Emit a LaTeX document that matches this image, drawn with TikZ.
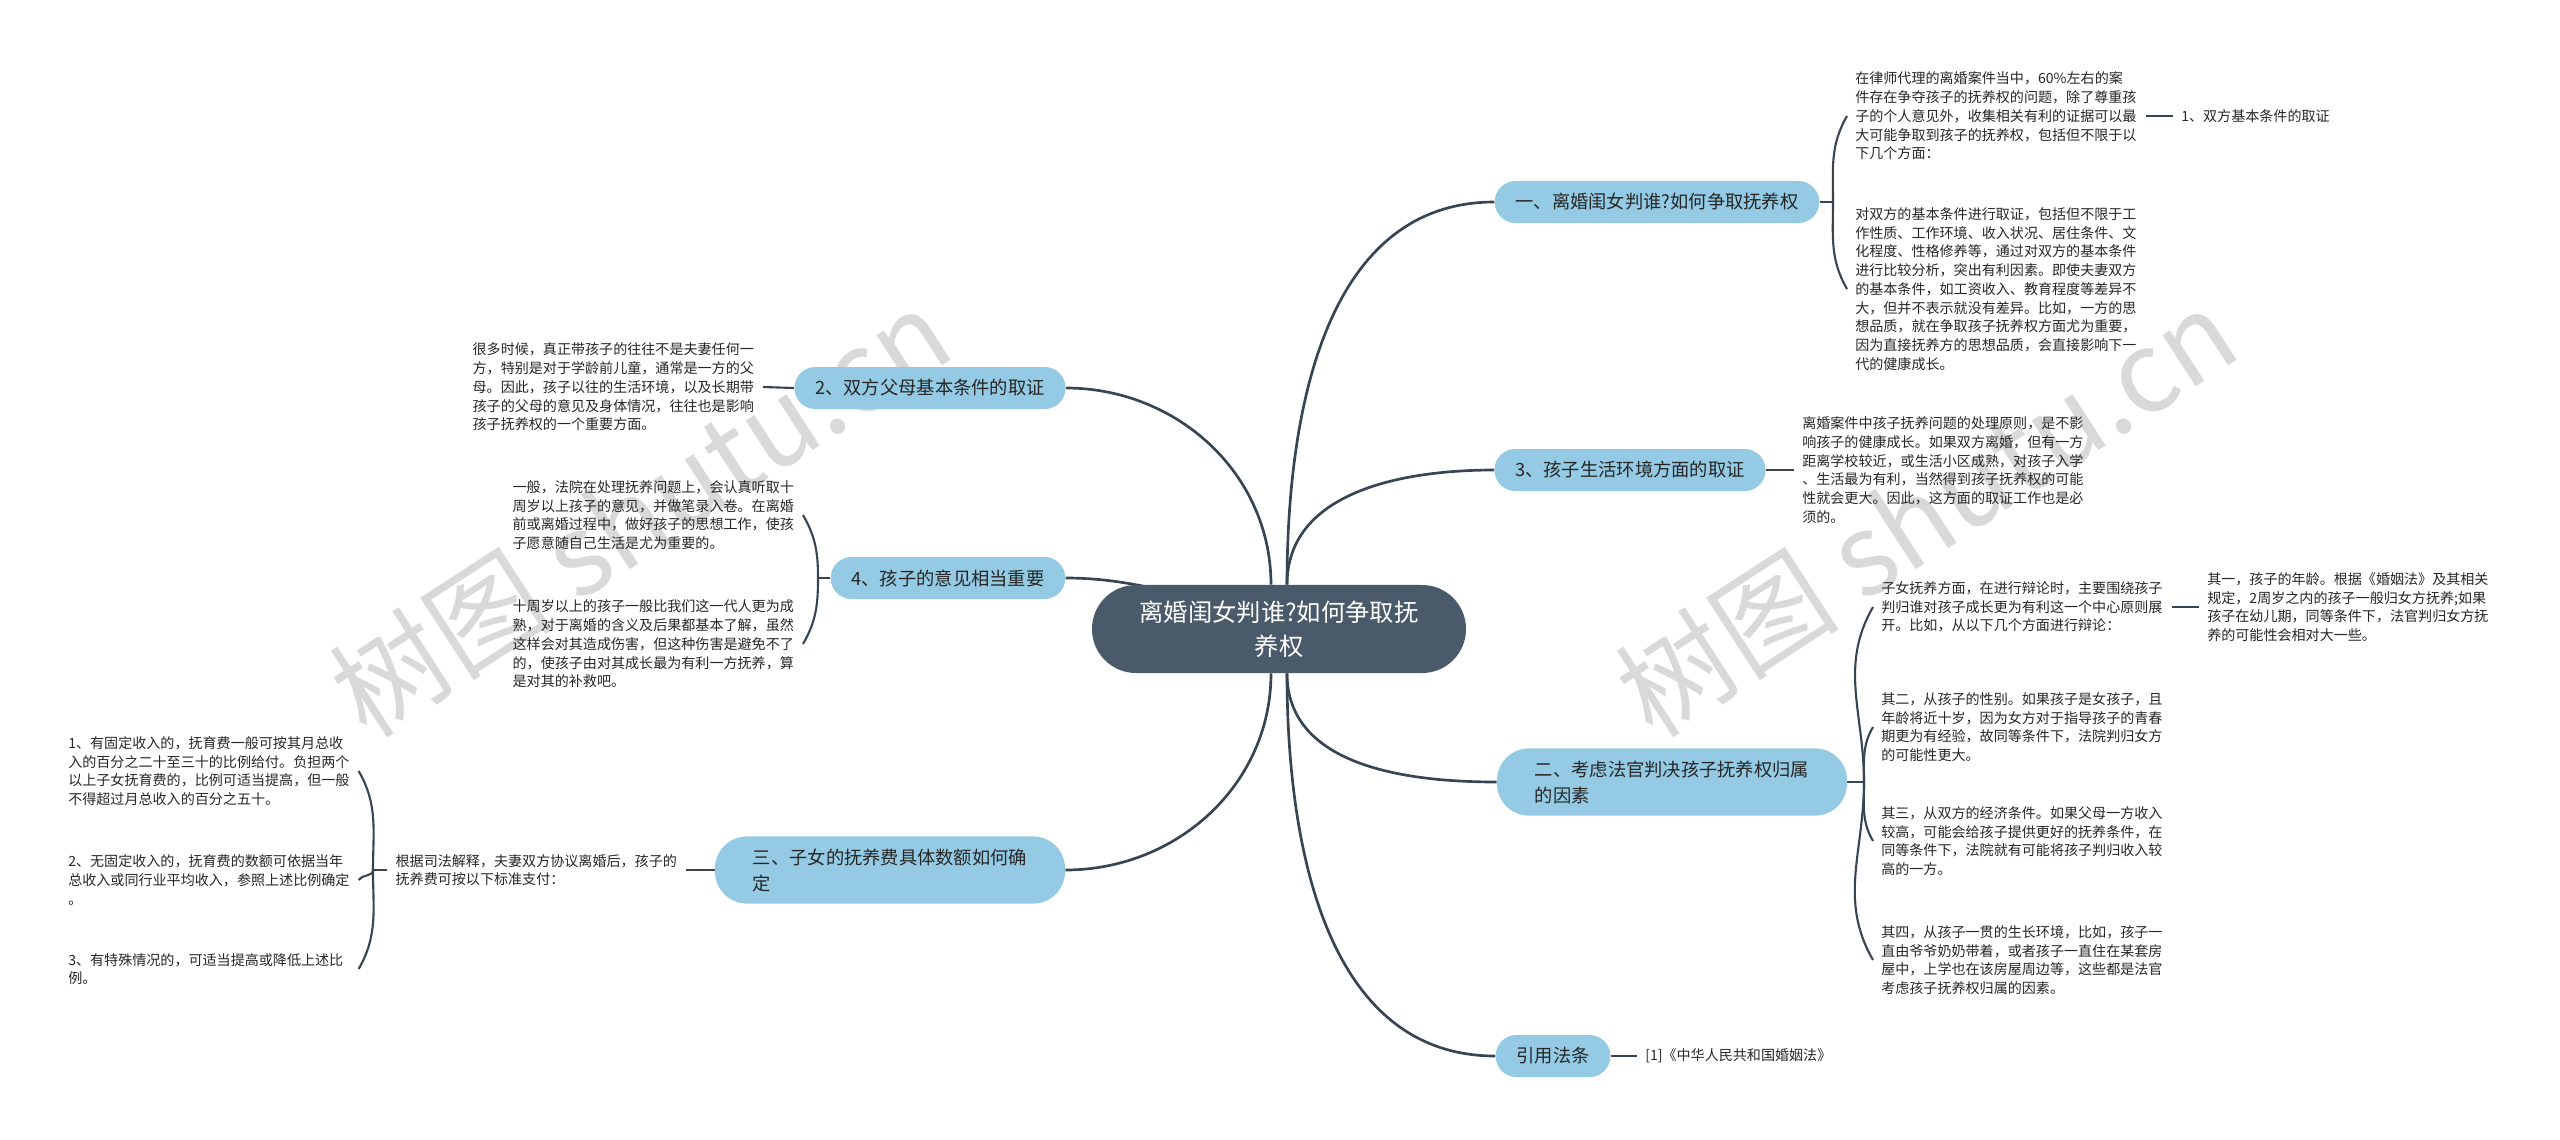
\documentclass[tikz,border=0pt]{standalone}
\usepackage{fontspec}
\setmainfont{Noto Sans CJK SC}
\usepackage{xcolor}
\usetikzlibrary{positioning, calc, backgrounds}

\definecolor{rootfill}{RGB}{74,90,106}
\definecolor{branchfill}{RGB}{148,202,227}
\definecolor{linkcol}{RGB}{55,68,82}
\definecolor{leaftext}{RGB}{38,38,38}

\begin{document}
\begin{tikzpicture}[x=0.025cm, y=-0.025cm,
    root/.style={fill=rootfill, text=white, rounded corners=1.1cm, minimum width=9.35cm, minimum height=2.2cm, align=center, font=\fontsize{17.3}{24.4}\selectfont},
    branch/.style={fill=branchfill, text=black!85, rounded corners=0.52cm, minimum height=1.05cm, inner xsep=0.52cm, font=\fontsize{13}{18.5}\selectfont},
    branchtwo/.style={branch, rounded corners=0.8cm, minimum width=8.75cm, minimum height=1.68cm, align=left},
    leaf/.style={text=leaftext, inner xsep=0.2cm, inner ysep=0pt, text width=7.05cm, align=left, font=\fontsize{10}{13.3}\selectfont},
    tag/.style={text=leaftext, inner xsep=0.2cm, inner ysep=0pt, font=\fontsize{10}{13.3}\selectfont},
    link/.style={draw=linkcol, line width=1.9pt},
    twig/.style={draw=linkcol, line width=1.5pt},
    watermark/.style={text=black!15, font=\fontsize{80}{80}\selectfont, rotate=33}
  ]
  \useasboundingbox (0,0) rectangle (2560,1139);

  % Nodes
  \node[root] (root) at (1279,629) {离婚闺女判谁?如何争取抚\\养权};

  \node[branch] (custody) at (1657,202) {一、离婚闺女判谁?如何争取抚养权};
  \node[branch] (living) at (1630,470) {3、孩子生活环境方面的取证};
  \node[branchtwo] (factors) at (1672,782) {二、考虑法官判决孩子抚养权归属\\的因素};
  \node[branch] (statute) at (1553,1056) {引用法条};
  \node[branch] (parents) at (930,388) {2、双方父母基本条件的取证};
  \node[branch] (opinion) at (948,578) {4、孩子的意见相当重要};
  \node[branchtwo] (support) at (890,870) {三、子女的抚养费具体数额如何确\\定};

  % right side texts
  \node[leaf, anchor=west] (custodyA) at (1847,116) {在律师代理的离婚案件当中，60\%左右的案\\件存在争夺孩子的抚养权的问题，除了尊重孩\\子的个人意见外，收集相关有利的证据可以最\\大可能争取到孩子的抚养权，包括但不限于以\\下几个方面：};
  \node[tag, anchor=west] (custodyT) at (2173,116) {1、双方基本条件的取证};
  \node[leaf, anchor=west] (custodyB) at (1847,289) {对双方的基本条件进行取证，包括但不限于工\\作性质、工作环境、收入状况、居住条件、文\\化程度、性格修养等，通过对双方的基本条件\\进行比较分析，突出有利因素。即使夫妻双方\\的基本条件，如工资收入、教育程度等差异不\\大，但并不表示就没有差异。比如，一方的思\\想品质，就在争取孩子抚养权方面尤为重要，\\因为直接抚养方的思想品质，会直接影响下一\\代的健康成长。};
  \node[leaf, anchor=west] (livingA) at (1794,470) {离婚案件中孩子抚养问题的处理原则，是不影\\响孩子的健康成长。如果双方离婚，但有一方\\距离学校较近，或生活小区成熟，对孩子入学\\、生活最为有利，当然得到孩子抚养权的可能\\性就会更大。因此，这方面的取证工作也是必\\须的。};
  \node[leaf, anchor=west] (factorsA) at (1873,607) {子女抚养方面，在进行辩论时，主要围绕孩子\\判归谁对孩子成长更为有利这一个中心原则展\\开。比如，从以下几个方面进行辩论：};
  \node[leaf, anchor=west] (factorsE) at (2199,607) {其一，孩子的年龄。根据《婚姻法》及其相关\\规定，2周岁之内的孩子一般归女方抚养;如果\\孩子在幼儿期，同等条件下，法官判归女方抚\\养的可能性会相对大一些。};
  \node[leaf, anchor=west] (factorsB) at (1873,727) {其二，从孩子的性别。如果孩子是女孩子，且\\年龄将近十岁，因为女方对于指导孩子的青春\\期更为有经验，故同等条件下，法院判归女方\\的可能性更大。};
  \node[leaf, anchor=west] (factorsC) at (1873,841) {其三，从双方的经济条件。如果父母一方收入\\较高，可能会给孩子提供更好的抚养条件，在\\同等条件下，法院就有可能将孩子判归收入较\\高的一方。};
  \node[leaf, anchor=west] (factorsD) at (1873,960) {其四，从孩子一贯的生长环境，比如，孩子一\\直由爷爷奶奶带着，或者孩子一直住在某套房\\屋中，上学也在该房屋周边等，这些都是法官\\考虑孩子抚养权归属的因素。};
  \node[tag, anchor=west] (statuteA) at (1637,1056) {[1]《中华人民共和国婚姻法》};

  % left side texts
  \node[leaf, anchor=east] (parentsA) at (763,387) {很多时候，真正带孩子的往往不是夫妻任何一\\方，特别是对于学龄前儿童，通常是一方的父\\母。因此，孩子以往的生活环境，以及长期带\\孩子的父母的意见及身体情况，往往也是影响\\孩子抚养权的一个重要方面。};
  \node[leaf, anchor=east] (opinionA) at (803,515) {一般，法院在处理抚养问题上，会认真听取十\\周岁以上孩子的意见，并做笔录入卷。在离婚\\前或离婚过程中，做好孩子的思想工作，使孩\\子愿意随自己生活是尤为重要的。};
  \node[leaf, anchor=east] (opinionB) at (803,644) {十周岁以上的孩子一般比我们这一代人更为成\\熟，对于离婚的含义及后果都基本了解，虽然\\这样会对其造成伤害，但这种伤害是避免不了\\的，使孩子由对其成长最为有利一方抚养，算\\是对其的补救吧。};
  \node[leaf, anchor=east] (supportA) at (686,870) {根据司法解释，夫妻双方协议离婚后，孩子的\\抚养费可按以下标准支付：};
  \node[leaf, anchor=west] (supportB) at (60,771) {1、有固定收入的，抚育费一般可按其月总收\\入的百分之二十至三十的比例给付。负担两个\\以上子女抚育费的，比例可适当提高，但一般\\不得超过月总收入的百分之五十。};
  \node[leaf, anchor=west] (supportC) at (60,880) {2、无固定收入的，抚育费的数额可依据当年\\总收入或同行业平均收入，参照上述比例确定\\。};
  \node[leaf, anchor=west] (supportD) at (60,969) {3、有特殊情况的，可适当提高或降低上述比\\例。};

  % bracket joints
  \coordinate (custodyJ) at (1833,202);
  \coordinate (factorsJ) at (1864,782);
  \coordinate (opinionJ) at (818,578);
  \coordinate (supportJ) at (373,870);

  \begin{scope}[on background layer]
    % watermarks
    \node[watermark] (markL) at (640,512) {树图 shutu.cn};
    \node[watermark] (markR) at (1926,512) {树图 shutu.cn};

    % Edges
    \draw[link] ($(root.north)+(8,0)$) to[out=90,in=180] (custody.west);
    \draw[link] ($(root.north)+(8,0)$) to[out=90,in=180] (living.west);
    \draw[link] ($(root.south)+(8,0)$) to[out=-90,in=180] (factors.west);
    \draw[link] ($(root.south)+(8,0)$) to[out=-90,in=180] (statute.west);
    \draw[link] ($(root.north)+(-8,0)$) to[out=90,in=0] (parents.east);
    \draw[link] ($(root.north)+(-8,20)$) to[out=180,in=0] (opinion.east);
    \draw[link] ($(root.south)+(-8,0)$) to[out=-90,in=0] (support.east);

    \draw[twig] (custody.east) -- (custodyJ);
    \draw[twig] (custodyJ) to[out=90,in=-120] (custodyA.west);
    \draw[twig] (custodyJ) to[out=-90,in=120] (custodyB.west);
    \draw[twig] (custodyA.east) -- (custodyT.west);
    \draw[twig] (living.east) -- (livingA.west);
    \draw[twig] (factors.east) -- (factorsJ);
    \draw[twig] (factorsJ) to[out=90,in=-120] (factorsA.west);
    \draw[twig] (factorsJ) to[out=90,in=-120] (factorsB.west);
    \draw[twig] (factorsJ) to[out=-90,in=120] (factorsC.west);
    \draw[twig] (factorsJ) to[out=-90,in=120] (factorsD.west);
    \draw[twig] (factorsA.east) -- (factorsE.west);
    \draw[twig] (statute.east) -- (statuteA.west);

    \draw[twig] (parents.west) -- (parentsA.east);
    \draw[twig] (opinion.west) -- (opinionJ);
    \draw[twig] (opinionJ) to[out=90,in=-60] (opinionA.east);
    \draw[twig] (opinionJ) to[out=-90,in=60] (opinionB.east);
    \draw[twig] (support.west) -- (supportA.east);
    \draw[twig] (supportA.west) -- (supportJ);
    \draw[twig] (supportJ) to[out=90,in=-60] (supportB.east);
    \draw[twig] (supportJ) to[out=-90,in=60] (supportC.east);
    \draw[twig] (supportJ) to[out=-90,in=60] (supportD.east);
  \end{scope}
\end{tikzpicture}
\end{document}
